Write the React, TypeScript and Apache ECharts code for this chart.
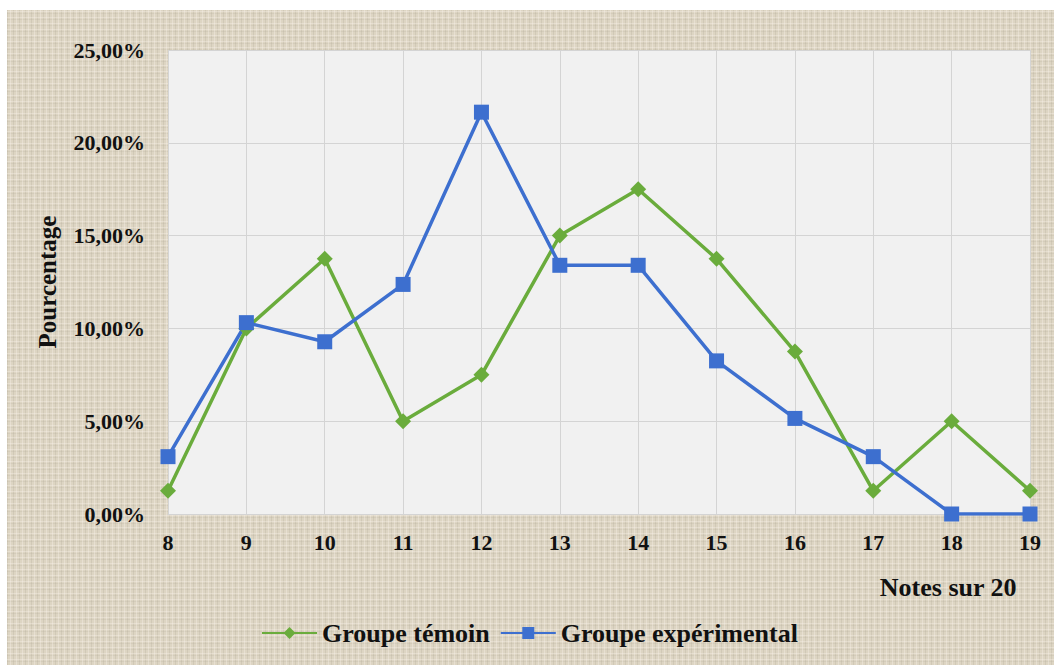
import React, { useEffect, useRef } from "react";
import * as echarts from "echarts";

const notes = ["8", "9", "10", "11", "12", "13", "14", "15", "16", "17", "18", "19"];
const groupeTemoin = [1.25, 10.0, 13.75, 5.0, 7.5, 15.0, 17.5, 13.75, 8.75, 1.25, 5.0, 1.25];
const groupeExperimental = [3.09, 10.31, 9.28, 12.37, 21.65, 13.4, 13.4, 8.25, 5.15, 3.09, 0, 0];

const FONT = "'Liberation Serif', 'Times New Roman', serif";

function makeLinen(): HTMLCanvasElement {
  const c = document.createElement("canvas");
  c.width = 6;
  c.height = 6;
  const g = c.getContext("2d")!;
  g.fillStyle = "#ddd5c3";
  g.fillRect(0, 0, 6, 6);
  g.fillStyle = "rgba(170,160,140,0.22)";
  g.fillRect(0, 0, 1, 6);
  g.fillStyle = "rgba(170,160,140,0.16)";
  g.fillRect(0, 3, 6, 1);
  g.fillStyle = "rgba(248,244,234,0.35)";
  g.fillRect(3, 0, 1, 6);
  g.fillRect(0, 1, 6, 1);
  return c;
}

export default function App() {
  const ref = useRef<HTMLDivElement>(null);
  useEffect(() => {
    if (!ref.current) return;
    const chart = echarts.init(ref.current, undefined, { renderer: "svg" });
    chart.setOption({
      animation: false,
      backgroundColor: { image: makeLinen(), repeat: "repeat" },
      textStyle: { fontFamily: FONT },
      grid: {
        left: 161,
        right: 24,
        top: 40,
        bottom: 151,
        show: true,
        backgroundColor: "#f1f1f1",
        borderWidth: 0,
      },
      legend: {
        bottom: 14,
        left: 249,
        itemWidth: 55,
        itemHeight: 15,
        itemGap: 10,
        textStyle: { fontFamily: FONT, fontWeight: "bold", fontSize: 26, color: "#111" },
        data: ["Groupe témoin", "Groupe expérimental"],
      },
      xAxis: {
        type: "category",
        data: notes,
        boundaryGap: false,
        axisLine: { show: true, lineStyle: { color: "#d4d4d4" } },
        axisTick: { show: false },
        splitLine: { show: true, lineStyle: { color: "#d4d4d4", width: 1 } },
        axisLabel: {
          margin: 17,
          fontFamily: FONT,
          fontWeight: "bold",
          fontSize: 22,
          color: "#111",
        },
      },
      yAxis: {
        type: "value",
        min: 0,
        max: 25,
        interval: 5,
        name: "Pourcentage",
        nameLocation: "middle",
        nameGap: 108,
        nameTextStyle: { fontFamily: FONT, fontWeight: "bold", fontSize: 25, color: "#111" },
        axisLine: { show: false },
        axisTick: { show: false },
        splitLine: { show: true, lineStyle: { color: "#d4d4d4", width: 1 } },
        axisLabel: {
          margin: 23,
          fontFamily: FONT,
          fontWeight: "bold",
          fontSize: 22,
          color: "#111",
          formatter: (v: number) => v.toFixed(2).replace(".", ",") + "%",
        },
      },
      graphic: [
        {
          type: "text",
          right: 37,
          top: 564,
          style: {
            text: "Notes sur 20",
            font: `bold 26px ${FONT}`,
            fill: "#111",
          },
        },
      ],
      series: [
        {
          name: "Groupe témoin",
          type: "line",
          data: groupeTemoin,
          symbol: "diamond",
          symbolSize: 16,
          lineStyle: { color: "#6aac3c", width: 3.5 },
          itemStyle: { color: "#6aac3c" },
        },
        {
          name: "Groupe expérimental",
          type: "line",
          data: groupeExperimental,
          symbol: "rect",
          symbolSize: 15,
          lineStyle: { color: "#3d6fcf", width: 3.5 },
          itemStyle: { color: "#3d6fcf" },
        },
      ],
    });
    return () => chart.dispose();
  }, []);
  return (
    <div
      ref={ref}
      style={{ position: "absolute", left: 7, top: 10, width: 1047, height: 655 }}
    />
  );
}
